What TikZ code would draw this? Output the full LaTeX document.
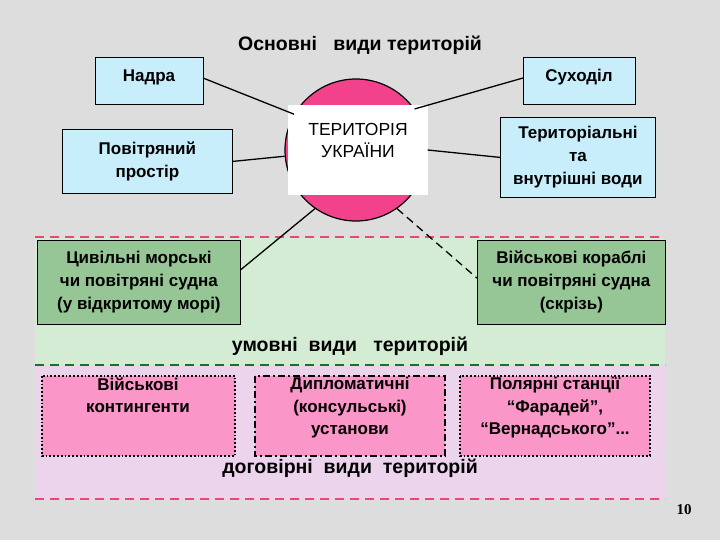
\documentclass[tikz,border=0pt]{standalone}
\usepackage{fontspec}
\setmainfont{Liberation Sans}
\usetikzlibrary{calc}
\definecolor{bg}{RGB}{221,221,221}
\definecolor{lblue}{RGB}{200,238,252}
\definecolor{lgreen}{RGB}{212,236,212}
\definecolor{dgreen}{RGB}{150,198,150}
\definecolor{lpink}{RGB}{236,212,236}
\definecolor{mpink}{RGB}{250,150,200}
\definecolor{circ}{RGB}{242,66,140}
\definecolor{dashpink}{RGB}{235,70,120}
\definecolor{dashgreen}{RGB}{30,110,40}
\begin{document}
\begin{tikzpicture}[x=1pt,y=-1pt,
  bx/.style={draw=black,line width=0.8pt,align=center,font=\bfseries\fontsize{17}{23}\selectfont,inner sep=2pt},
  bluebox/.style={bx,fill=lblue},
  greenbox/.style={bx,fill=dgreen},
  pinkbox/.style={draw=black,line width=1.8pt,fill=mpink,minimum height=80pt},
  ptext/.style={align=center,font=\bfseries\fontsize{17}{22.5}\selectfont,anchor=north},
  conn/.style={line width=1.3pt},
  lbl/.style={font=\bfseries\fontsize{19.5}{24}\selectfont}]
\fill[bg] (0,0) rectangle (720,540);
\useasboundingbox (0,0) rectangle (720,540);
\fill[lgreen] (35,238) rectangle (665,365);
\fill[lpink] (35,366) rectangle (665,499);
\draw[dashpink,line width=2pt,dash pattern=on 9pt off 6pt] (35,237) -- (665,237);
\draw[dashgreen,line width=2pt,dash pattern=on 9pt off 6pt] (35,365) -- (665,365);
\draw[dashpink,line width=2pt,dash pattern=on 9pt off 6pt] (35,499) -- (665,499);
\node[lbl] (title) at (360,45) {Основні\ \ \ види\ територій};
\node[circle,draw=black,line width=1.2pt,fill=circ,minimum size=142pt] (c) at (356,150) {};
\node[fill=white,minimum width=140pt,minimum height=90pt] (u) at (358,150) {};
\node[align=center,anchor=north,font=\fontsize{17.5}{22}\selectfont] (ut) at (358,120) {ТЕРИТОРІЯ\\УКРАЇНИ};
\draw[draw=black,line width=0.8pt,fill=lblue] (95,57) rectangle (203,104);
\node[bx,draw=none] (n) at (149,77) {Надра};
\coordinate (ne) at (203,78);
\draw[draw=black,line width=0.8pt,fill=lblue] (523,57) rectangle (635,104);
\node[bx,draw=none] (s) at (579,77) {Суходіл};
\coordinate (sw) at (523,78);
\node[bluebox,minimum width=170pt,minimum height=64pt,anchor=north west] (p) at (62,129) {Повітряний\\простір};
\node[bluebox,minimum width=155pt,minimum height=80pt,anchor=north west] (t) at (500,117) {Територіальні\\та\\внутрішні води};
\node[greenbox,minimum width=203pt,minimum height=84pt,anchor=north west] (cv) at (37,240) {Цивільні морські\\чи повітряні судна\\(у відкритому морі)};
\node[greenbox,minimum width=188pt,minimum height=84pt,anchor=north west] (ml) at (477,240) {Військові кораблі\\чи повітряні судна\\(скрізь)};
\draw[conn] (ne) -- (c.150);
\draw[conn] (sw) -- (c.35);
\draw[conn] (p.east) -- (c.185);
\draw[conn] (t.west) -- (c.0);
\draw[conn] ($(cv.north east)!0.35!(cv.south east)$) -- (c.235);
\draw[conn,dash pattern=on 8pt off 5pt] (c.305) -- ($(ml.north west)!0.45!(ml.south west)$);
\node[lbl] (um) at (350,346) {умовні\ \ види\ \ \ територій};
\draw[pinkbox,dotted] (42,376) rectangle (235,456);
\node[ptext] (vk) at (138,374) {Військові\\контингенти};
\draw[pinkbox,dash pattern=on 7pt off 3pt on 2pt off 3pt] (255,376) rectangle (445,456);
\node[ptext] (dp) at (350,374) {Дипломатичні\\(консульські)\\установи};
\draw[pinkbox,dotted] (460,376) rectangle (650,456);
\node[ptext] (pl) at (555,374) {Полярні станції\\“Фарадей”,\\“Вернадського”...};
\node[lbl] (dg) at (350,468) {договірні\ \ види\ \ територій};
\node[font=\bfseries\fontsize{15}{16}\selectfont] (num) at (684,510) {\fontspec{Liberation Serif}10};
\end{tikzpicture}
\end{document}
